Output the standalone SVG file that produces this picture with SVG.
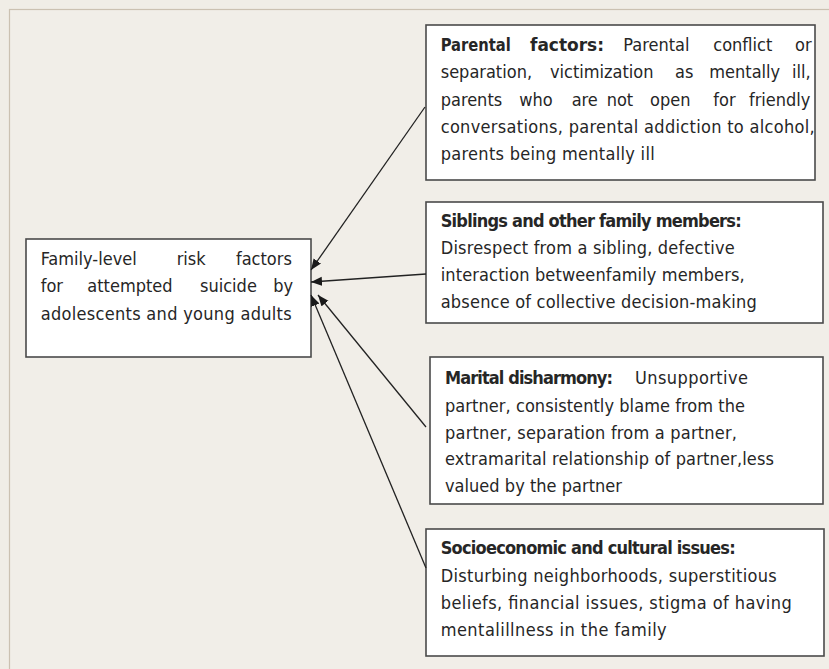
<svg xmlns="http://www.w3.org/2000/svg" width="829" height="669" viewBox="0 0 829 669">
<defs>
<style>
.bg{fill:#f0ede6}
.panel{fill:#f1eee8;stroke:#cbc1b1;stroke-width:1.2}
.box{fill:#ffffff;stroke:#4a4a4a;stroke-width:1.6}
text{font-family:"DejaVu Sans Condensed","DejaVu Sans","Liberation Sans",sans-serif;font-stretch:condensed;font-size:18px;fill:#262626}
.b{font-weight:bold}
.conn line{stroke:#222;stroke-width:1.3;marker-end:url(#ah)}
</style>
<marker id="ah" markerUnits="userSpaceOnUse" markerWidth="12" markerHeight="10" refX="11" refY="4.5" orient="auto">
<path d="M0,0 L11,4.5 L0,9 z" fill="#1a1a1a"/>
</marker>
</defs>
<rect class="bg" x="0" y="0" width="829" height="669"/>
<rect class="panel" x="9.5" y="9.5" width="830" height="670"/>

<g id="parental">
<rect class="box" x="426" y="25" width="389" height="155"/>
<text y="51"><tspan class="b" x="440.7" textLength="70" lengthAdjust="spacingAndGlyphs">Parental</tspan><tspan class="b" x="530" textLength="74" lengthAdjust="spacingAndGlyphs">factors:</tspan><tspan x="623.3">Parental</tspan><tspan x="713.3">conflict</tspan><tspan x="795">or</tspan></text>
<text y="78"><tspan x="440.7">separation,</tspan><tspan x="550">victimization</tspan><tspan x="675">as</tspan><tspan x="709.3">mentally</tspan><tspan x="792">ill,</tspan></text>
<text y="106"><tspan x="440.7">parents</tspan><tspan x="519.3">who</tspan><tspan x="571.7">are</tspan><tspan x="606.7">not</tspan><tspan x="650">open</tspan><tspan x="713.3">for</tspan><tspan x="749">friendly</tspan></text>
<text x="440.7" y="133" textLength="374" lengthAdjust="spacing">conversations, parental addiction to alcohol,</text>
<text x="440.7" y="160" textLength="214" lengthAdjust="spacing">parents being mentally ill</text>
</g>

<g id="family">
<rect class="box" x="26" y="239" width="285" height="118"/>
<text y="265"><tspan x="40.7">Family-level</tspan><tspan x="176.7">risk</tspan><tspan x="236">factors</tspan></text>
<text y="292"><tspan x="40.7">for</tspan><tspan x="87.3">attempted</tspan><tspan x="200">suicide</tspan><tspan x="273.3">by</tspan></text>
<text x="40.7" y="320" textLength="251" lengthAdjust="spacing">adolescents and young adults</text>
</g>

<g id="siblings">
<rect class="box" x="426" y="202" width="397" height="121"/>
<text class="b" x="440.7" y="227" textLength="301" lengthAdjust="spacing">Siblings and other family members:</text>
<text x="440.7" y="254" textLength="294" lengthAdjust="spacing">Disrespect from a sibling, defective</text>
<text x="440.7" y="281" textLength="304" lengthAdjust="spacing">interaction betweenfamily members,</text>
<text x="440.7" y="308" textLength="316" lengthAdjust="spacing">absence of collective decision-making</text>
</g>

<g id="marital">
<rect class="box" x="430" y="357" width="393" height="147"/>
<text y="384"><tspan class="b" x="445" textLength="168" lengthAdjust="spacing">Marital disharmony:</tspan><tspan x="635" textLength="113" lengthAdjust="spacing">Unsupportive</tspan></text>
<text x="445" y="411.5" textLength="300" lengthAdjust="spacing">partner, consistently blame from the</text>
<text x="445" y="438.5" textLength="292" lengthAdjust="spacing">partner, separation from a partner,</text>
<text x="445" y="465" textLength="329" lengthAdjust="spacing">extramarital relationship of partner,less</text>
<text x="445" y="492" textLength="177" lengthAdjust="spacing">valued by the partner</text>
</g>

<g id="socioeconomic">
<rect class="box" x="426" y="529" width="398" height="127"/>
<text class="b" x="440.7" y="554" textLength="295" lengthAdjust="spacing">Socioeconomic and cultural issues:</text>
<text x="440.7" y="581.5" textLength="336" lengthAdjust="spacing">Disturbing neighborhoods, superstitious</text>
<text x="440.7" y="609" textLength="351" lengthAdjust="spacing">beliefs, financial issues, stigma of having</text>
<text x="440.7" y="636" textLength="226" lengthAdjust="spacing">mentalillness in the family</text>
</g>

<g id="connectors" class="conn">
<line x1="425" y1="107" x2="311" y2="270"/>
<line x1="426" y1="274" x2="311" y2="282"/>
<line x1="426" y1="427" x2="318" y2="295"/>
<line x1="426" y1="568" x2="311" y2="295"/>
</g>
</svg>
